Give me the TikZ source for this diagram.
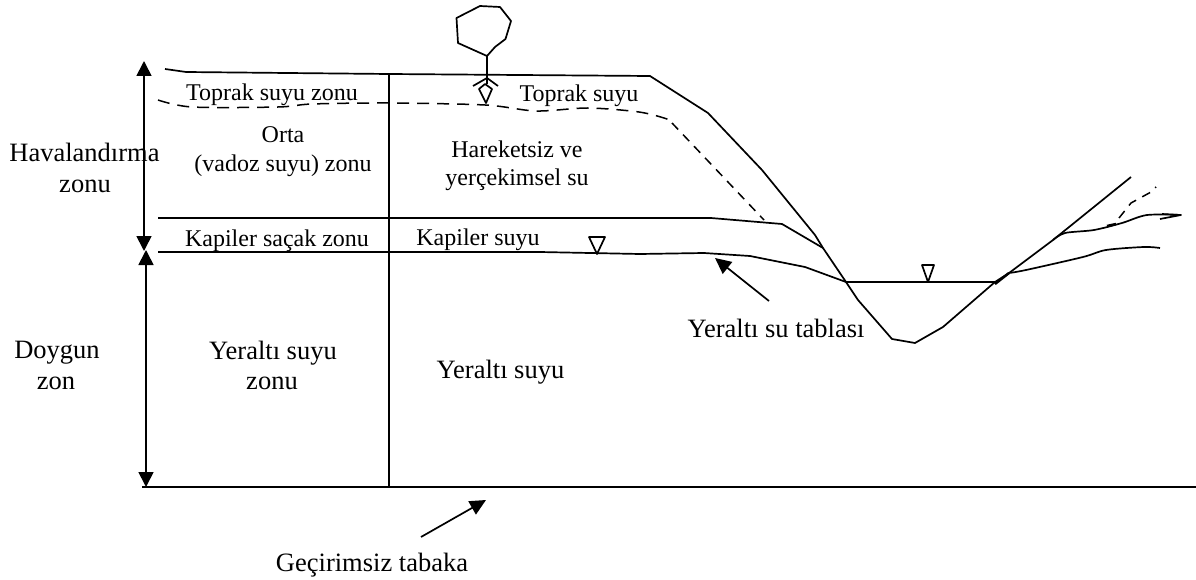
\documentclass[tikz,border=0pt]{standalone}
\usepackage{fontspec}
\setmainfont{Liberation Serif}
\usetikzlibrary{arrows.meta}

\tikzset{
  label/.style={inner sep=0pt,font=\fontsize{24}{28}\selectfont},
  biglabel/.style={inner sep=0pt,font=\fontsize{26.5}{30}\selectfont},
  line/.style={line width=1.7pt,line join=round},
  dashline/.style={line width=1.5pt,dash pattern=on 12pt off 8pt},
  slopedash/.style={line width=1.5pt,dash pattern=on 9pt off 7pt},
  dimarrow/.style={line width=1.7pt,{Triangle[length=15pt,width=15pt]}-{Triangle[length=15pt,width=15pt]}},
  callout/.style={line width=1.7pt,-{Triangle[length=16pt,width=15pt]}},
}

\begin{document}
\begin{tikzpicture}[x=1pt,y=-1pt]

  \useasboundingbox (0,0) rectangle (1196,580);

  % Specification of nodes (position, etc.)
  \coordinate (g0) at (389,74);
  \coordinate (b0) at (389,487);
  \coordinate (bl) at (142,487);
  \coordinate (br) at (1196,487);
  \coordinate (c0) at (158,218);
  \coordinate (c1) at (389,218);
  \coordinate (c2) at (823,248);
  \coordinate (w0) at (158,252);
  \coordinate (w1) at (846,282);
  \coordinate (w2) at (995,282);
  \coordinate (t0) at (144,61);
  \coordinate (t1) at (144,251);
  \coordinate (s0) at (146,250);
  \coordinate (s1) at (146,487);
  \coordinate (y0) at (769,301);
  \coordinate (y1) at (715,258);
  \coordinate (p0) at (421,537);
  \coordinate (p1) at (486,500);
  \coordinate (r0) at (487,56);
  \coordinate (r1) at (487,84);

  \node[biglabel] (hava) at (84.5,152) {Havalandırma};
  \node[biglabel] (havb) at (85,186) {zonu};
  \node[biglabel] (doya) at (57,353) {Doygun};
  \node[biglabel] (doyb) at (56,383) {zon};
  \node[label] (tz) at (272,95) {Toprak suyu zonu};
  \node[label] (ts) at (579,96) {Toprak suyu};
  \node[label] (oa) at (283,135) {Orta};
  \node[label] (ob) at (283,166) {(vadoz suyu) zonu};
  \node[label] (ha) at (517,149) {Hareketsiz ve};
  \node[label] (hb) at (517,180) {yerçekimsel su};
  \node[label] (kz) at (277,241) {Kapiler saçak zonu};
  \node[label] (ks) at (478,239.5) {Kapiler suyu};
  \node[biglabel] (ya) at (273,353) {Yeraltı suyu};
  \node[biglabel] (yb) at (272,383) {zonu};
  \node[biglabel] (yc) at (500.5,372) {Yeraltı suyu};
  \node[biglabel] (yt) at (776,328) {Yeraltı su tablası};
  \node[biglabel] (gt) at (372,565) {Geçirimsiz tabaka};

  % ground surface, valley and far bank
  \draw[line] (165,69) -- (186,72) -- (g0) -- (650,76) -- (708,113) -- (762,170)
    -- (815,235) -- (c2) -- (w1) -- (858,300) -- (892,339) -- (915,343) -- (943,327)
    -- (w2) -- (1009,273) -- (1053,240) -- (1131,177);
  \draw[line,line width=2.5pt] (995,284) -- (1009,273);

  \draw[line] (g0) to (b0);
  \draw[line] (bl) to (br);

  % zone limits
  \draw[line] (c0) -- (c1) -- (711,218) -- (782,224) -- (c2);
  \draw[line] (w0) -- (540,252) -- (640,254) -- (704,253) -- (750,256) -- (805,267) -- (w1);
  \draw[line] (w1) to (w2);
  \draw[dashline] plot[smooth,tension=0.5] coordinates {(158,100) (192,107) (278,107) (312,104)
    (388,103) (485,105) (536,111) (588,108) (639,112) (667,119) (672,123)};
  \draw[slopedash] (672,123) -- (764,220);

  % far bank, right of the valley
  \draw[line] plot[smooth,tension=0.5] coordinates {(1009,273) (1026,270) (1083,257) (1106,250) (1144,247) (1160,248)};
  \draw[line] plot[smooth,tension=0.5] coordinates {(1053,240) (1065,233) (1094,230) (1122,223) (1147,215) (1181,215)};
  \draw[line] (1160,219) -- (1181,215) -- (1162,214);
  \draw[line,line width=2.5pt] (1107,226) -- (1116,224);
  \draw[slopedash] (1119,218) -- (1131,203) -- (1151,192) -- (1156,187);

  % water level marks
  \draw[line] (922,265) -- (934,265) -- (928,282) -- cycle;
  \draw[line] (589,237) -- (605,237) -- (597,254) -- cycle;

  % tree
  \draw[line] (r0) -- (458,43) -- (456.5,18) -- (480,6) -- (500,7) -- (511,21) -- (505.5,39) -- (495,47) -- cycle;
  \draw[line] (r0) to (r1);
  \draw[line] (473,86) -- (487,78) -- (498,86);
  \draw[line] (479,89) -- (485,84) -- (492,89) -- (486,103) -- cycle;

  \begin{scope}[-]
    \draw[dimarrow] (t0) to (t1);
    \draw[dimarrow] (s0) to (s1);
    \draw[callout] (y0) to (y1);
    \draw[callout] (p0) to (p1);
  \end{scope}

\end{tikzpicture}
\end{document}
